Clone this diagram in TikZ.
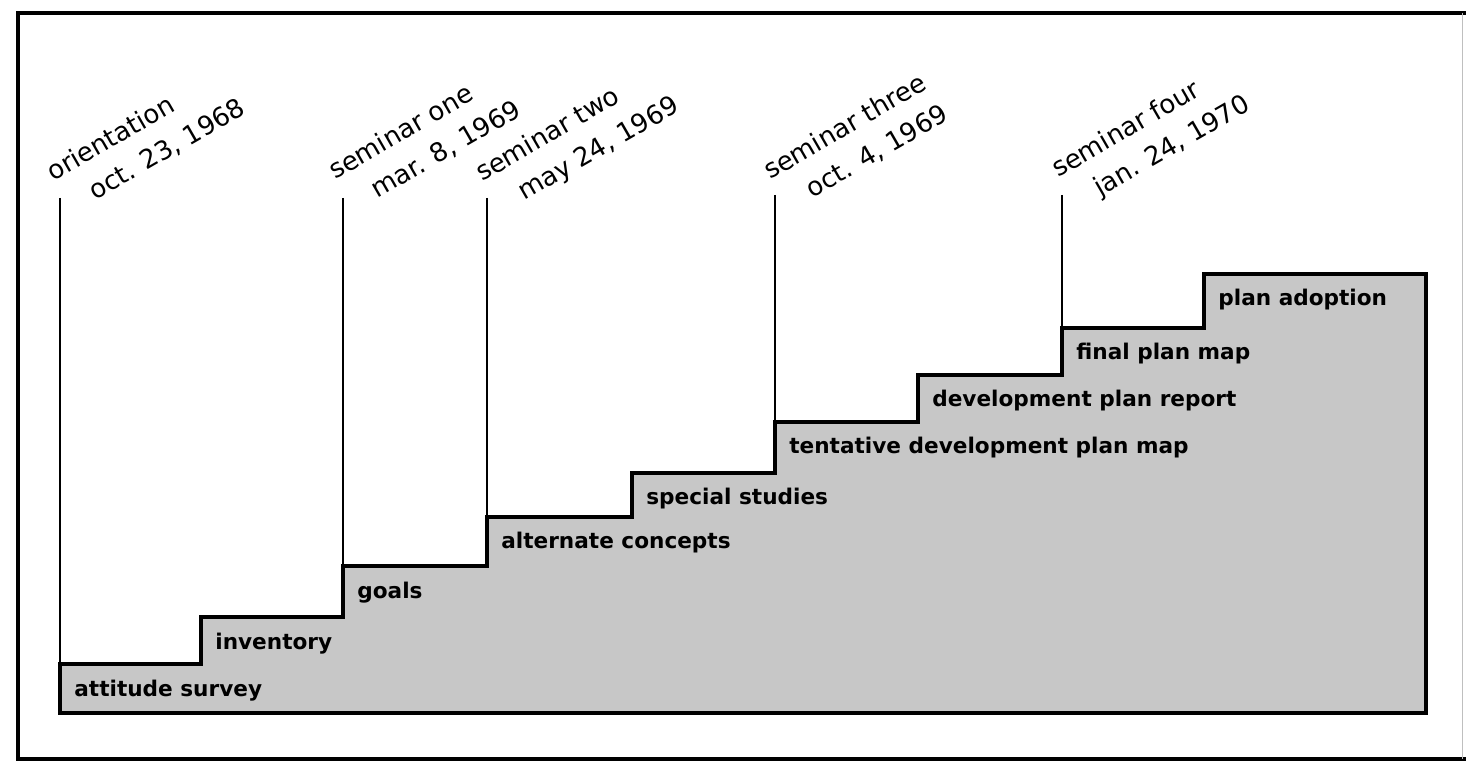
\documentclass[tikz,border=0pt]{standalone}
\usepackage{fontspec}
\setmainfont{DejaVu Sans}
\usepackage{tikz}
\usetikzlibrary{calc,positioning}
\usepackage{xcolor}
\definecolor{stairgray}{gray}{0.78}

\begin{document}
\begin{tikzpicture}[
x=0.02cm, y=0.02cm,
stage/.style={
    anchor=base west,
    inner sep=0pt,
    font=\bfseries\fontsize{12.3}{14}\selectfont
},
meeting/.style={
    anchor=base west,
    inner sep=0pt,
    rotate=30,
    font=\fontsize{14.8}{17}\selectfont
},
stair/.style={draw, line width=2pt, fill=stairgray, line join=miter},
mark line/.style={line width=1pt}
]
\useasboundingbox (0,0) rectangle (1466,764);

% frame
\draw[line width=2.2pt] (1466,751) -- (18,751) -- (18,5) -- (1466,5);
\draw[line width=0.4pt, black!25] (1462,751) -- (1462,5);

% staircase
\draw[stair] (60,51) -- (60,100) -- (201,100) -- (201,147) -- (343,147)
    -- (343,198) -- (487,198) -- (487,247) -- (632,247) -- (632,291)
    -- (775,291) -- (775,342) -- (918,342) -- (918,389) -- (1062,389)
    -- (1062,436) -- (1204,436) -- (1204,490) -- (1426,490) -- (1426,51)
    -- cycle;

\coordinate (s1) at (60,100);
\coordinate (s3) at (343,198);
\coordinate (s4) at (487,247);
\coordinate (s6) at (775,342);
\coordinate (s8) at (1062,436);

\coordinate (t1) at (60,566);
\coordinate (t3) at (343,566);
\coordinate (t4) at (487,566);
\coordinate (t6) at (775,569);
\coordinate (t8) at (1062,569);

% meeting lines
\draw[mark line] (t1) -- (s1);
\draw[mark line] (t3) -- (s3);
\draw[mark line] (t4) -- (s4);
\draw[mark line] (t6) -- (s6);
\draw[mark line] (t8) -- (s8);

% steps
\node[stage] (survey) at (74,68) {attitude survey};
\node[stage] (inventory) at (215,115) {inventory};
\node[stage] (goals) at (357,166) {goals};
\node[stage] (concepts) at (501,215) {alternate concepts};
\node[stage] (studies) at (646,259) {special studies};
\node[stage] (tentmap) at (789,310) {tentative development plan map};
\node[stage] (report) at (932,357) {development plan report};
\node[stage] (finalmap) at (1076,404) {final plan map};
\node[stage] (adoption) at (1218,458) {plan adoption};

% meetings
\node[meeting] (orient) at (53,582) {orientation};
\node[meeting] (orientdate) at ($(orient.base west)+(42,-19)$) {oct. 23, 1968};

\node[meeting] (semone) at (335,584) {seminar one};
\node[meeting] (semonedate) at ($(semone.base west)+(42,-19)$) {mar. 8, 1969};

\node[meeting] (semtwo) at (482,582) {seminar two};
\node[meeting] (semtwodate) at ($(semtwo.base west)+(42,-19)$) {may 24, 1969};

\node[meeting] (semthree) at (770,584) {seminar three};
\node[meeting] (semthreedate) at ($(semthree.base west)+(42,-19)$) {oct. 4, 1969};

\node[meeting] (semfour) at (1058,586) {seminar four};
\node[meeting] (semfourdate) at ($(semfour.base west)+(42,-19)$) {jan. 24, 1970};

\end{tikzpicture}
\end{document}
